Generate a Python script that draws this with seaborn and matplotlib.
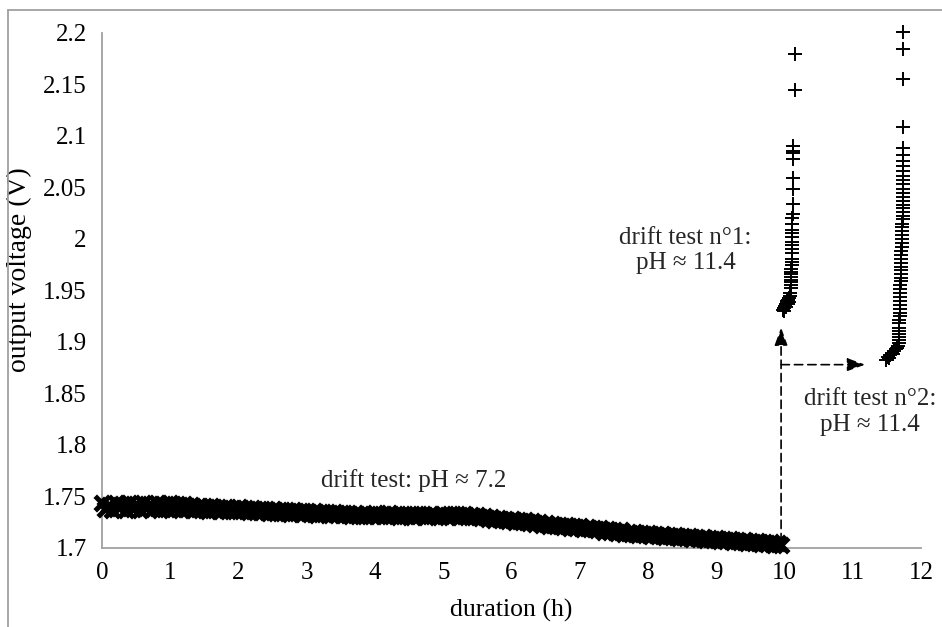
import numpy as np
import pandas as pd
import matplotlib
matplotlib.use("Agg")
import matplotlib.pyplot as plt
from matplotlib.lines import Line2D
import seaborn as sns

# drift test at pH 7.2: one reading every 0.05 h, 0 .. 9.95 h
band_hours = np.round(np.arange(200) * 0.05, 2)
band_voltage = [
    1.744, 1.738, 1.742, 1.737, 1.744, 1.739, 1.743, 1.737, 1.744, 1.738,
    1.743, 1.737, 1.744, 1.739, 1.743, 1.738, 1.744, 1.737, 1.743, 1.738,
    1.744, 1.738, 1.743, 1.737, 1.743, 1.738, 1.742, 1.737, 1.741, 1.737,
    1.741, 1.736, 1.741, 1.737, 1.740, 1.736, 1.740, 1.736, 1.739, 1.736,
    1.740, 1.736, 1.739, 1.735, 1.739, 1.735, 1.738, 1.735, 1.738, 1.734,
    1.738, 1.734, 1.737, 1.734, 1.737, 1.733, 1.737, 1.734, 1.736, 1.733,
    1.736, 1.733, 1.736, 1.732, 1.735, 1.733, 1.735, 1.732, 1.735, 1.732,
    1.734, 1.732, 1.734, 1.731, 1.734, 1.731, 1.733, 1.731, 1.733, 1.731,
    1.734, 1.731, 1.733, 1.731, 1.734, 1.731, 1.733, 1.730, 1.733, 1.731,
    1.733, 1.730, 1.733, 1.731, 1.733, 1.730, 1.733, 1.731, 1.732, 1.730,
    1.733, 1.730, 1.733, 1.731, 1.733, 1.730, 1.733, 1.730, 1.732, 1.730,
    1.732, 1.729, 1.731, 1.728, 1.730, 1.727, 1.729, 1.727, 1.728, 1.726,
    1.728, 1.725, 1.727, 1.725, 1.727, 1.724, 1.726, 1.723, 1.725, 1.722,
    1.724, 1.721, 1.723, 1.721, 1.722, 1.720, 1.722, 1.719, 1.721, 1.719,
    1.721, 1.718, 1.720, 1.718, 1.719, 1.717, 1.719, 1.716, 1.718, 1.716,
    1.717, 1.715, 1.717, 1.714, 1.716, 1.714, 1.716, 1.713, 1.715, 1.713,
    1.715, 1.712, 1.714, 1.712, 1.714, 1.711, 1.713, 1.711, 1.713, 1.710,
    1.712, 1.710, 1.712, 1.709, 1.711, 1.709, 1.711, 1.708, 1.710, 1.708,
    1.710, 1.707, 1.709, 1.707, 1.709, 1.706, 1.708, 1.706, 1.708, 1.705,
    1.707, 1.705, 1.707, 1.704, 1.706, 1.704, 1.706, 1.703, 1.705, 1.703,
]

# drift test n°1 (pH 11.4)
drift1_hours = [
    9.98, 9.99, 10.00, 10.01, 10.02, 10.02, 10.03, 10.04, 10.05, 10.05,
    10.06, 10.07, 10.08, 10.08,
    10.09, 10.09, 10.10, 10.10, 10.10, 10.10, 10.10, 10.10, 10.11, 10.11,
    10.11, 10.11, 10.11, 10.11, 10.11, 10.11, 10.11, 10.11, 10.11, 10.11,
    10.12, 10.12, 10.12, 10.12, 10.12, 10.12, 10.12, 10.13, 10.15, 10.15,
]
drift1_voltage = [
    1.931, 1.933, 1.930, 1.935, 1.937, 1.934, 1.938, 1.940, 1.937, 1.941,
    1.939, 1.943, 1.945, 1.948,
    1.952, 1.955, 1.958, 1.960, 1.963, 1.966, 1.968, 1.971, 1.975, 1.978,
    1.981, 1.986, 1.990, 1.994, 1.997, 2.002, 2.006, 2.009, 2.015, 2.020,
    2.024, 2.034, 2.049, 2.059, 2.078, 2.083, 2.085, 2.090, 2.145, 2.180,
]

# drift test n°2 (pH 11.4)
drift2_hours = [
    11.49, 11.51, 11.53, 11.55, 11.57, 11.59, 11.61, 11.63, 11.65, 11.67,
    11.68, 11.68, 11.68, 11.68, 11.68, 11.68, 11.68, 11.68, 11.69, 11.69,
    11.69, 11.69, 11.69, 11.69, 11.69, 11.69, 11.69, 11.70, 11.70, 11.70,
    11.70, 11.70, 11.70, 11.70, 11.70, 11.71, 11.72, 11.72, 11.72, 11.72,
    11.72, 11.72, 11.72, 11.73, 11.73, 11.73, 11.73, 11.73, 11.73, 11.73,
    11.73, 11.73, 11.74, 11.74, 11.74, 11.74, 11.74, 11.74, 11.74, 11.74,
    11.74, 11.74, 11.74, 11.74,
]
drift2_voltage = [
    1.883, 1.885, 1.884, 1.887, 1.889, 1.888, 1.891, 1.893, 1.894, 1.896,
    1.899, 1.902, 1.905, 1.908, 1.911, 1.914, 1.918, 1.921, 1.925, 1.928,
    1.932, 1.936, 1.940, 1.944, 1.948, 1.951, 1.955, 1.959, 1.962, 1.966,
    1.970, 1.973, 1.977, 1.981, 1.984, 1.988, 1.992, 1.996, 2.000, 2.004,
    2.008, 2.012, 2.015, 2.019, 2.022, 2.026, 2.030, 2.033, 2.037, 2.041,
    2.045, 2.049, 2.053, 2.057, 2.061, 2.066, 2.071, 2.076, 2.082, 2.088,
    2.109, 2.155, 2.184, 2.201,
]

x_ticks = list(range(0, 13))
y_ticks = [1.7, 1.75, 1.8, 1.85, 1.9, 1.95, 2.0, 2.05, 2.1, 2.15, 2.2]
y_tick_labels = ["1.7", "1.75", "1.8", "1.85", "1.9", "1.95", "2", "2.05", "2.1", "2.15", "2.2"]

band = pd.DataFrame({"hours": band_hours, "voltage": band_voltage})
drift1 = pd.DataFrame({"hours": drift1_hours, "voltage": drift1_voltage})
drift2 = pd.DataFrame({"hours": drift2_hours, "voltage": drift2_voltage})

sns.set_theme(style="white")
plt.rcParams["font.family"] = ["Liberation Serif", "DejaVu Serif"]

fig = plt.figure(figsize=(9.42, 6.27), dpi=100)
ax = fig.add_axes([0.1083, 0.126, 0.8694, 0.8214])

sns.scatterplot(data=band, x="hours", y="voltage", ax=ax, marker="x", s=110,
                color="black", linewidth=3.6, clip_on=False, zorder=3)
sns.scatterplot(data=drift1, x="hours", y="voltage", ax=ax, marker="+", s=95,
                color="black", linewidth=1.4, clip_on=False, zorder=3)
sns.scatterplot(data=drift2, x="hours", y="voltage", ax=ax, marker="+", s=95,
                color="black", linewidth=1.4, clip_on=False, zorder=3)

ax.set_xlim(0, 12)
ax.set_ylim(1.7, 2.2)
ax.set_xticks(x_ticks)
ax.set_yticks(y_ticks)
ax.set_yticklabels(y_tick_labels)

grey = "#a0a0a0"
for side in ["top", "right"]:
    ax.spines[side].set_visible(False)
for side in ["left", "bottom"]:
    ax.spines[side].set_color(grey)
    ax.spines[side].set_linewidth(1.3)
ax.tick_params(axis="both", which="major", direction="out", length=6, width=1.1,
               color=grey, labelsize=18, labelcolor="black", pad=4)
ax.tick_params(axis="y", pad=5)

ax.set_xlabel("duration (h)", fontsize=18.5, color="black")
ax.set_ylabel("output voltage (V)", fontsize=20, color="black")
ax.xaxis.set_label_coords(0.5, -0.098)
ax.yaxis.set_label_coords(-0.085, 0.54)

# annotations
ax.text(4.57, 1.766, "drift test: pH ≈ 7.2", fontsize=18, ha="center", va="center")
ax.text(8.55, 1.989, "drift test n°1:\npH ≈ 11.4", fontsize=18, ha="center",
        va="center", linespacing=1.2)
ax.text(11.25, 1.832, "drift test n°2:\npH ≈ 11.4", fontsize=18, ha="center",
        va="center", linespacing=1.2, clip_on=False)

arrow_style = dict(arrowstyle="-|>,head_length=0.6,head_width=0.22", color="black",
                   lw=1.2, linestyle=(0, (5, 3)), shrinkA=0, shrinkB=0,
                   mutation_scale=18)
ax.annotate("", xy=(9.95, 1.914), xytext=(9.95, 1.706), arrowprops=arrow_style)
ax.annotate("", xy=(11.18, 1.878), xytext=(9.95, 1.878), arrowprops=arrow_style)

# outer chart frame
fig.add_artist(Line2D([8 / 942, 8 / 942], [0, 1 - 10 / 627], transform=fig.transFigure,
                      color=grey, lw=1.3))
fig.add_artist(Line2D([8 / 942, 1], [1 - 10 / 627, 1 - 10 / 627], transform=fig.transFigure,
                      color=grey, lw=1.3))

fig.savefig("out.png", dpi=100)
